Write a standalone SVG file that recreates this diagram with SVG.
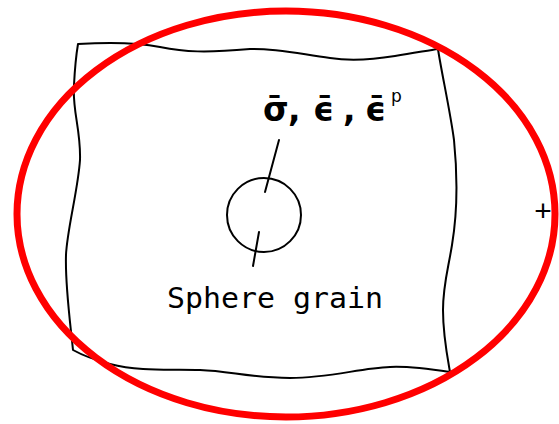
<svg xmlns="http://www.w3.org/2000/svg" width="559" height="424" viewBox="0 0 559 424">
  <style>
    .ink { fill: none; stroke: #000; stroke-width: 2; stroke-linejoin: round; stroke-linecap: round; }
    .sym { font-family: "DejaVu Sans", "Liberation Sans", sans-serif; font-weight: bold; font-size: 33px; fill: #000; }
    .lbl { font-family: "DejaVu Sans Mono", "Liberation Mono", monospace; font-size: 29px; fill: #000; }
  </style>
  <rect width="559" height="424" fill="#fff"/>
  <g id="sheet">
    <path class="ink" d="M78,44 C110,42 140,43 160,47 C185,52 205,53 250,49 C275,48 300,54 330,58 C350,61 370,60 395,56 C415,53 430,50 438,49 C441,70 450,110 454,140 C458,180 457,215 452,245 C448,270 443,285 443,310 C443,335 447,355 450,372 C430,369 410,366 390,367 C360,368 330,378 290,378 C250,378 230,371 200,370 C170,369 140,372 110,364 C95,360 82,355 73,350 C70,320 65,285 66,255 C67,230 78,190 80,160 C81,130 72,110 74,85 C75,65 77,50 78,44 Z"/>
  </g>
  <g id="grain">
    <circle class="ink" cx="264" cy="215" r="37"/>
  </g>
  <g id="connectors">
    <line class="ink" x1="279" y1="140" x2="265" y2="192"/>
    <line class="ink" x1="259" y1="232" x2="253" y2="266"/>
  </g>
  <g id="label-fields">
    <text class="sym" y="121"><tspan x="263">σ̄</tspan><tspan x="288">,</tspan><tspan x="313">ϵ̄</tspan><tspan x="343">,</tspan><tspan x="365">ϵ̄</tspan><tspan x="391" y="102" style="font-size:17px;font-weight:normal">p</tspan></text>
  </g>
  <g id="label-grain">
    <text class="lbl" x="167" y="308" textLength="216" lengthAdjust="spacingAndGlyphs">Sphere grain</text>
  </g>
  <g id="mark">
    <text x="543" y="221" text-anchor="middle" style="font-family:'Liberation Sans',sans-serif;font-size:30px;fill:#000">+</text>
  </g>
  <g id="highlight">
    <ellipse cx="286" cy="214" rx="269" ry="203" fill="none" stroke="#ff0000" stroke-width="7"/>
  </g>
</svg>
